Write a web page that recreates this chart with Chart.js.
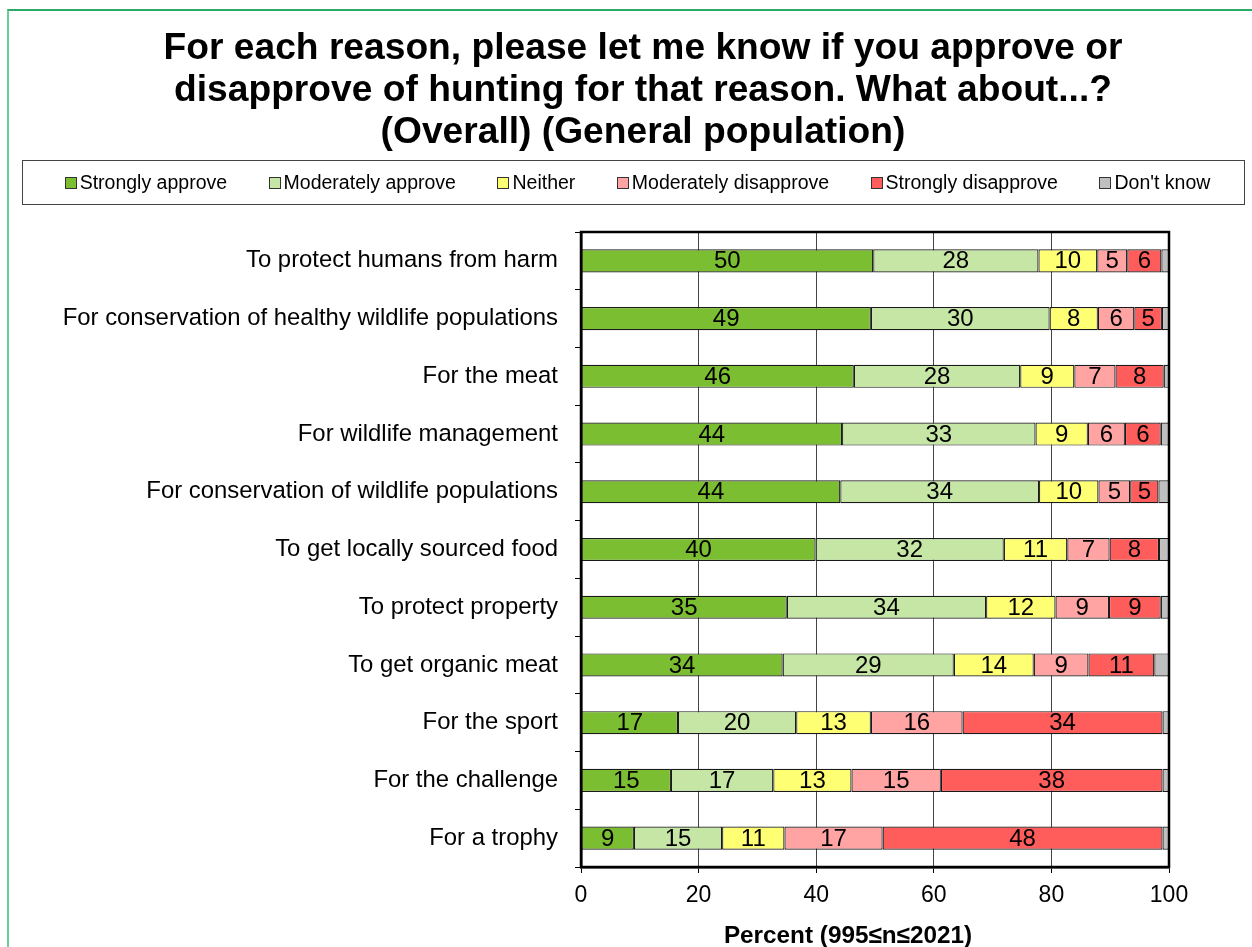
<!DOCTYPE html>
<html>
<head>
<meta charset="utf-8">
<script src="https://cdn.jsdelivr.net/npm/chart.js@4/dist/chart.umd.min.js"></script>
<style>
  html, body { margin: 0; padding: 0; background: #fff; width: 1252px; height: 947px; overflow: hidden; font-family: "Liberation Sans", Arial, sans-serif; }
  #frame { position: absolute; left: 7px; top: 9px; width: 1400px; height: 1100px; border-top: 2px solid #2aaa66; border-left: 2px solid #66cf95; box-sizing: border-box; }
  #title { position: absolute; left: 0; width: 1286px; top: 25px; text-align: center; font-weight: bold; font-size: 37.2px; line-height: 42px; color: #000; }
  #legend { position: absolute; left: 22px; top: 160px; width: 1223px; height: 45px; border: 1px solid #444; box-sizing: border-box; display: flex; justify-content: center; align-items: center; gap: 41.5px; padding-left: 8px; font-size: 19.5px; color: #000; }
  .li { display: flex; align-items: center; white-space: nowrap; }
  .sw { width: 10px; height: 10px; border: 1px solid #333; margin-right: 3px; }
  #xtitle { position: absolute; top: 920px; left: 648px; width: 400px; text-align: center; font-weight: bold; font-size: 24.3px; line-height: 30px; }
  canvas { position: absolute; left: 0; top: 0; }
</style>
</head>
<body>
<canvas id="c" width="1252" height="947"></canvas>
<div id="frame"></div>
<div id="title">For each reason, please let me know if you approve or<br>disapprove of hunting for that reason. What about...?<br>(Overall) (General population)</div>
<div id="legend"></div>
<div id="xtitle">Percent (995≤n≤2021)</div>
<script>
const categories = [
  "To protect humans from harm",
  "For conservation of healthy wildlife populations",
  "For the meat",
  "For wildlife management",
  "For conservation of wildlife populations",
  "To get locally sourced food",
  "To protect property",
  "To get organic meat",
  "For the sport",
  "For the challenge",
  "For a trophy"
];
const seriesNames = ["Strongly approve", "Moderately approve", "Neither", "Moderately disapprove", "Strongly disapprove", "Don't know"];
const stronglyApprove     = [49.7, 49.3, 46.4, 44.4, 44.1, 39.9, 35.0, 34.3, 16.5, 15.3, 9.0];
const moderatelyApprove   = [28.1, 30.4, 28.3, 32.9, 33.8, 32.0, 33.9, 29.1, 20.1, 17.4, 15.0];
const neither             = [10.0, 8.2, 9.2, 8.9, 10.1, 10.8, 11.8, 13.6, 12.7, 13.3, 10.6];
const moderatelyDisapprove= [5.1, 6.2, 7.0, 6.3, 5.4, 7.2, 9.1, 9.3, 15.6, 15.2, 16.7];
const stronglyDisapprove  = [5.8, 4.7, 8.2, 6.1, 4.8, 8.4, 8.8, 11.2, 34.0, 37.7, 47.6];
const dontKnow            = [1.3, 1.2, 0.9, 1.4, 1.8, 1.7, 1.4, 2.5, 1.1, 1.1, 1.1];
const xTicks = [0, 20, 40, 60, 80, 100];

const colors = ["#7cbe32", "#c5e6a4", "#ffff73", "#ffa3a3", "#ff5c5c", "#bfbfbf"];
const seriesData = [stronglyApprove, moderatelyApprove, neither, moderatelyDisapprove, stronglyDisapprove, dontKnow];
const showLabels = [true, true, true, true, true, false];

// HTML legend
const legendEl = document.getElementById('legend');
seriesNames.forEach((n, i) => {
  const d = document.createElement('div'); d.className = 'li';
  const s = document.createElement('div'); s.className = 'sw'; s.style.background = colors[i];
  const t = document.createElement('span'); t.textContent = n;
  d.appendChild(s); d.appendChild(t); legendEl.appendChild(d);
});

const FONT = '"Liberation Sans", Arial, sans-serif';

const barLabels = {
  id: 'barLabels',
  afterDatasetsDraw(chart) {
    const ctx = chart.ctx;
    ctx.save();
    ctx.font = '24px ' + FONT;
    ctx.fillStyle = '#000';
    ctx.textAlign = 'center';
    ctx.textBaseline = 'middle';
    chart.data.datasets.forEach((ds, i) => {
      if (!showLabels[i]) return;
      const meta = chart.getDatasetMeta(i);
      meta.data.forEach((el, j) => {
        const v = ds.data[j];
        if (v < 2.5) return;
        const p = el.getCenterPoint();
        ctx.fillText(String(Math.round(v)), p.x, p.y + 1);
      });
    });
    ctx.restore();
  }
};

const plotBorder = {
  id: 'plotBorder',
  afterDraw(chart) {
    const a = chart.chartArea, ctx = chart.ctx;
    ctx.save();
    ctx.strokeStyle = '#000';
    ctx.lineWidth = 2.5;
    ctx.strokeRect(a.left, a.top, a.right - a.left, a.bottom - a.top);
    ctx.restore();
  }
};

new Chart(document.getElementById('c'), {
  type: 'bar',
  data: {
    labels: categories,
    datasets: seriesNames.map((n, i) => ({
      label: n,
      data: seriesData[i],
      backgroundColor: colors[i],
      borderColor: '#1a1a1a',
      borderWidth: 1.2,
      borderSkipped: false,
      barPercentage: 0.4,
      categoryPercentage: 1
    }))
  },
  options: {
    indexAxis: 'y',
    responsive: false,
    animation: false,
    layout: { padding: { top: 232, right: 83, bottom: 0, left: 0 } },
    plugins: { legend: { display: false }, title: { display: false }, tooltip: { enabled: false } },
    scales: {
      x: {
        stacked: true, min: 0, max: 100,
        afterBuildTicks(scale) { scale.ticks = xTicks.map(v => ({ value: v })); },
        ticks: { color: '#000', font: { size: 23, family: FONT }, padding: 9 },
        grid: { color: '#444', lineWidth: 1, tickLength: 6, tickColor: '#000' },
        border: { color: '#000', width: 2.5 },
        afterFit(scale) { scale.height = 80; }
      },
      y: {
        stacked: true,
        ticks: { color: '#000', font: { size: 23.9, family: FONT }, padding: 17 },
        grid: { drawOnChartArea: false, tickLength: 6, color: '#000', offset: true },
        border: { color: '#000', width: 2.5 },
        afterFit(scale) { scale.width = 581; }
      }
    }
  },
  plugins: [barLabels, plotBorder]
});
</script>
</body>
</html>
